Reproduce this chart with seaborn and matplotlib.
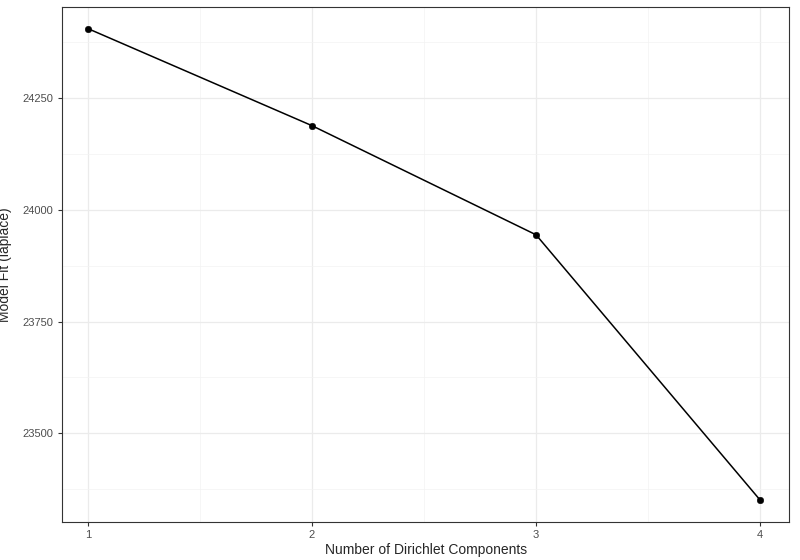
import matplotlib
matplotlib.use('Agg')
import matplotlib.pyplot as plt
import seaborn as sns
import pandas as pd
from matplotlib.ticker import MultipleLocator

components = [1, 2, 3, 4]
laplace = [24405, 24188, 23944, 23351]

df = pd.DataFrame({'k': components, 'fit': laplace})

sns.set_style('white')
plt.rcParams['font.family'] = ['Liberation Sans', 'DejaVu Sans']

fig = plt.figure(figsize=(8, 5.6), dpi=100)
ax = fig.add_axes([0.0775, 0.068, 0.909, 0.92])

sns.lineplot(data=df, x='k', y='fit', color='black', linewidth=1.1, ax=ax)
sns.scatterplot(data=df, x='k', y='fit', color='black', s=22, edgecolor='black', zorder=3, ax=ax)

ax.set_xlim(0.884, 4.13)
ax.set_ylim(23302, 24454)
ax.xaxis.set_major_locator(MultipleLocator(1))
ax.xaxis.set_minor_locator(MultipleLocator(0.5))
ax.yaxis.set_major_locator(MultipleLocator(250))
ax.yaxis.set_minor_locator(MultipleLocator(125))
ax.grid(which='major', color='#ebebeb', linewidth=0.9)
ax.grid(which='minor', color='#f3f3f3', linewidth=0.5)
ax.set_axisbelow(True)
for s in ax.spines.values():
    s.set_color('#333333')
    s.set_linewidth(0.8)
ax.tick_params(which='major', length=3, color='#333333', labelsize=8, labelcolor='#4d4d4d', pad=3)
ax.tick_params(which='minor', length=0)
ax.tick_params(axis='both', which='major', bottom=True, left=True)

ax.set_xlabel('Number of Dirichlet Components', fontsize=10, labelpad=2)
ax.set_ylabel('Model Fit (laplace)', fontsize=10, labelpad=4)
ax.yaxis.set_label_coords(-0.069, 0.5)

fig.savefig('out.png', dpi=100)
